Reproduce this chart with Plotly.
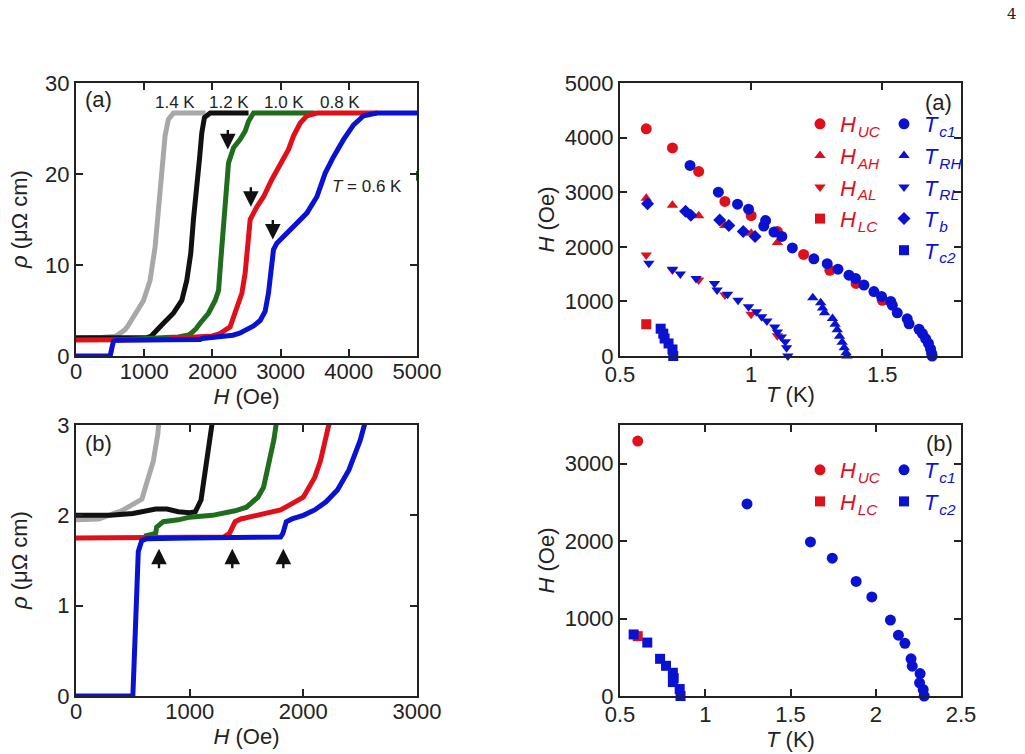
import plotly.graph_objects as go

# ---------------- Panel (a)/(b) left: rho(H) curves ----------------
H_14 = [0, 200, 400, 500, 580, 620, 680, 720, 760, 840, 990, 1086, 1160, 1208, 1257, 1306, 1355, 1430, 1600, 1900]
R_14 = [1.95, 1.96, 2.05, 2.12, 2.18, 2.35, 2.6, 2.9, 3.3, 4.3, 6.1, 8.3, 12.0, 16.0, 20.8, 24.2, 26.0, 26.7, 26.7, 26.7]

H_12 = [0, 300, 500, 600, 700, 800, 900, 1000, 1050, 1100, 1150, 1200, 1220, 1282, 1428, 1551, 1624, 1683, 1722, 1771, 1810, 1844, 1883, 1967, 2200, 2530]
R_12 = [2.0, 2.0, 2.02, 2.05, 2.07, 2.07, 2.04, 2.03, 2.04, 2.17, 2.53, 2.87, 3.0, 3.6, 4.7, 6.1, 8.3, 11.3, 15.0, 18.3, 21.6, 24.5, 26.2, 26.7, 26.7, 26.7]

H_10 = [600, 650, 700, 710, 768, 900, 1000, 1200, 1400, 1500, 1600, 1650, 1700, 1740, 1760, 1820, 1942, 2040, 2090, 2123, 2162, 2197, 2236, 2310, 2407, 2480, 2530, 2603, 3000, 3500]
R_10 = [1.77, 1.78, 1.8, 1.87, 1.93, 1.95, 1.98, 2.0, 2.05, 2.09, 2.2, 2.31, 2.57, 2.83, 3.0, 3.6, 4.7, 6.1, 7.2, 10.5, 14.2, 17.9, 21.2, 22.9, 23.8, 24.7, 25.8, 26.7, 26.7, 26.7]

H_08 = [0, 400, 800, 1200, 1300, 1350, 1400, 1450, 1600, 1800, 1900, 2000, 2100, 2150, 2200, 2220, 2260, 2358, 2432, 2480, 2515, 2554, 2652, 2750, 2872, 2994, 3116, 3190, 3288, 3386, 3532, 4000, 4413]
R_08 = [1.75, 1.75, 1.75, 1.75, 1.76, 1.8, 1.93, 1.96, 2.0, 2.06, 2.13, 2.2, 2.42, 2.6, 2.87, 3.0, 3.2, 5.2, 6.9, 9.1, 12.0, 15.0, 16.4, 17.5, 19.4, 21.2, 22.7, 24.2, 25.6, 26.4, 26.7, 26.7, 26.7]

H_06 = [0, 500, 510, 528, 548, 578, 620, 1000, 1400, 1800, 1820, 1850, 1900, 2000, 2100, 2200, 2300, 2400, 2500, 2540, 2603, 2700, 2773, 2822, 2857, 2896, 2945, 3092, 3238, 3385, 3532, 3654, 3777, 3924, 4070, 4217, 4413, 5000]
R_06 = [0, 0, 0.32, 1.06, 1.6, 1.72, 1.74, 1.75, 1.75, 1.76, 1.8, 1.93, 1.96, 2.0, 2.06, 2.15, 2.28, 2.5, 2.83, 3.0, 3.3, 3.9, 4.9, 6.9, 9.8, 11.7, 12.4, 13.5, 14.6, 15.7, 17.5, 20.1, 21.9, 23.8, 25.4, 26.4, 26.7, 26.7]

green_stray_H = [5000]
green_stray_R = [19.8]

curve_labels = ["1.4 K", "1.2 K", "1.0 K", "0.8 K"]
curve_label_H = [1453, 2250, 3043, 3875]

arrow_a_H = [2226, 2564, 2886]
arrow_a_R = [22.7, 16.4, 12.8]
arrow_b_H = [730, 1375, 1824]
arrow_b_R = [1.63, 1.63, 1.63]

# ---------------- Panel (a) right: phase diagram ----------------
T_UC = [0.6, 0.7, 0.8, 0.9, 1.0, 1.1, 1.2, 1.3, 1.4, 1.5]
H_UC = [4160, 3810, 3380, 2830, 2570, 2280, 1860, 1570, 1330, 1020]
T_AH = [0.6, 0.7, 0.8, 0.9, 1.0, 1.1]
H_AH = [2890, 2760, 2570, 2390, 2250, 2080]
T_AL = [0.6, 0.7, 0.8, 0.9, 1.0, 1.1]
H_AL = [1850, 1575, 1390, 1115, 765, 370]
T_LC = [0.6]
H_LC = [582]

T_c1 = [0.767, 0.875, 0.948, 0.99, 1.048, 1.055, 1.087, 1.117, 1.157, 1.239, 1.29, 1.331, 1.373, 1.398, 1.43, 1.468, 1.497, 1.532, 1.538, 1.557, 1.595, 1.602, 1.64, 1.653, 1.665, 1.676, 1.684, 1.688, 1.69]
H_c1 = [3490, 3000, 2780, 2690, 2380, 2480, 2270, 2190, 1980, 1780, 1690, 1590, 1480, 1420, 1300, 1180, 1090, 1000, 930, 790, 680, 590, 490, 410, 320, 230, 130, 50, 0]
T_RH = [1.235, 1.265, 1.272, 1.28, 1.31, 1.32, 1.328, 1.337, 1.347, 1.355, 1.362, 1.365]
H_RH = [1065, 975, 880, 790, 685, 580, 480, 360, 250, 150, 60, 0]
T_RL = [0.61, 0.7, 0.73, 0.79, 0.86, 0.87, 0.91, 0.95, 0.99, 1.02, 1.04, 1.06, 1.09, 1.1, 1.115, 1.13, 1.135, 1.14]
H_RL = [1700, 1590, 1500, 1420, 1330, 1210, 1130, 1020, 900, 810, 720, 640, 530, 440, 350, 260, 150, 0]
T_b = [0.605, 0.75, 0.77, 0.88, 0.915, 0.97, 1.015]
H_b = [2790, 2650, 2580, 2490, 2390, 2280, 2190]
T_c2 = [0.655, 0.665, 0.67, 0.685, 0.7, 0.703]
H_c2 = [500, 410, 320, 230, 120, 0]

# ---------------- Panel (b) right ----------------
T_UC_b = [0.604]
H_UC_b = [3292]
T_LC_b = [0.604]
H_LC_b = [773]
T_c1_b = [1.245, 1.617, 1.745, 1.885, 1.977, 2.086, 2.133, 2.171, 2.207, 2.214, 2.26, 2.257, 2.278, 2.284]
H_c1_b = [2480, 1990, 1780, 1480, 1280, 980, 785, 680, 480, 385, 290, 170, 85, 0]
T_c2_b = [0.58, 0.66, 0.735, 0.77, 0.81, 0.815, 0.81, 0.85, 0.855]
H_c2_b = [795, 690, 480, 390, 300, 230, 180, 90, 0]

RED = "#e0101a"
BLUE = "#0a12d2"
GREEN = "#1e6e1e"
GRAY = "#a8a8a8"
BLACK = "#111111"
FONT = "Liberation Sans, Arial, sans-serif"
FS = 22

fig = go.Figure()

curves = [(H_14, R_14, GRAY), (H_12, R_12, BLACK), (H_10, R_10, GREEN), (H_08, R_08, RED), (H_06, R_06, BLUE)]
for xa, ya in (("x", "y"), ("x2", "y2")):
    for h, r, c in curves:
        fig.add_trace(go.Scatter(x=h, y=r, mode="lines", line=dict(color=c, width=5),
                                 xaxis=xa, yaxis=ya, showlegend=False, hoverinfo="skip"))
fig.add_trace(go.Scatter(x=green_stray_H, y=green_stray_R, mode="markers",
                         marker=dict(symbol="line-ns", size=7, line=dict(color=GREEN, width=2)),
                         xaxis="x", yaxis="y", showlegend=False, cliponaxis=False))

def sub(main, s):
    return f"<i>{main}</i>\u200a<sub><i>{s}</i></sub>"

def pts(t, h, sym, col, size, name, xa, ya, leg):
    return go.Scatter(x=t, y=h, mode="markers", name=name,
                      marker=dict(symbol=sym, color=col, size=size, line=dict(width=0)),
                      xaxis=xa, yaxis=ya, cliponaxis=False, legend=leg, legendgroup=name + xa)

# top-right
fig.add_trace(pts(T_UC, H_UC, "circle", RED, 11, sub("H", "UC"), "x3", "y3", "legend"))
fig.add_trace(pts(T_AH, H_AH, "triangle-up", RED, 10, sub("H", "AH"), "x3", "y3", "legend"))
fig.add_trace(pts(T_AL, H_AL, "triangle-down", RED, 10, sub("H", "AL"), "x3", "y3", "legend"))
fig.add_trace(pts(T_LC, H_LC, "square", RED, 10, sub("H", "LC"), "x3", "y3", "legend"))
fig.add_trace(pts(T_c1, H_c1, "circle", BLUE, 11, sub("T", "c1"), "x3", "y3", "legend2"))
fig.add_trace(pts(T_RH, H_RH, "triangle-up", BLUE, 10, sub("T", "RH"), "x3", "y3", "legend2"))
fig.add_trace(pts(T_RL, H_RL, "triangle-down", BLUE, 10, sub("T", "RL"), "x3", "y3", "legend2"))
fig.add_trace(pts(T_b, H_b, "diamond", BLUE, 10, sub("T", "b"), "x3", "y3", "legend2"))
fig.add_trace(pts(T_c2, H_c2, "square", BLUE, 10, sub("T", "c2"), "x3", "y3", "legend2"))
# bottom-right
fig.add_trace(pts(T_UC_b, H_UC_b, "circle", RED, 11, sub("H", "UC"), "x4", "y4", "legend3"))
fig.add_trace(pts(T_LC_b, H_LC_b, "square", RED, 10, sub("H", "LC"), "x4", "y4", "legend3"))
fig.add_trace(pts(T_c1_b, H_c1_b, "circle", BLUE, 11, sub("T", "c1"), "x4", "y4", "legend4"))
fig.add_trace(pts(T_c2_b, H_c2_b, "square", BLUE, 10, sub("T", "c2"), "x4", "y4", "legend4"))

XL = [76 / 1025, 417 / 1025]
XR = [620 / 1025, 961 / 1025]
YT = [1 - 356 / 754, 1 - 83 / 754]
YB = [1 - 696 / 754, 1 - 425 / 754]

def ax(domain, anchor, rng, title, standoff, **kw):
    d = dict(domain=domain, anchor=anchor, range=rng, showline=True, linecolor="#222", linewidth=2,
             mirror="allticks", ticks="inside", ticklen=7, tickwidth=2, tickcolor="#222",
             showgrid=False, zeroline=False, automargin=False,
             tickfont=dict(family=FONT, size=FS, color="#222"),
             title=dict(text=title, font=dict(family=FONT, size=FS, color="#222"), standoff=standoff))
    d.update(kw)
    return d

fig.update_layout(
    width=1025, height=754, margin=dict(l=0, r=0, t=0, b=0, autoexpand=False),
    paper_bgcolor="white", plot_bgcolor="white", showlegend=True,
    font=dict(family=FONT, color="#222"),
    xaxis=ax(XL, "y", [0, 5000], "<i>H</i> (Oe)", 0, ticklabelstandoff=-5, tickvals=[0, 1000, 2000, 3000, 4000, 5000], ticktext=["0", "1000", "2000", "3000", "4000", "5000"]),
    yaxis=ax(YT, "x", [0, 30], "", 0, tickvals=[0, 10, 20, 30]),
    xaxis2=ax(XL, "y2", [0, 3000], "<i>H</i> (Oe)", 0, ticklabelstandoff=-5, tickvals=[0, 1000, 2000, 3000], ticktext=["0", "1000", "2000", "3000"]),
    yaxis2=ax(YB, "x2", [0, 3], "", 0, tickvals=[0, 1, 2, 3]),
    xaxis3=ax(XR, "y3", [0.5, 1.8], "<i>T</i> (K)", 0, ticklabelstandoff=-2, tickvals=[0.5, 1, 1.5], ticktext=["0.5", "1", "1.5"]),
    yaxis3=ax(YT, "x3", [0, 5000], "<i>H</i> (Oe)", 4, tickvals=[0, 1000, 2000, 3000, 4000, 5000], ticktext=["0", "1000", "2000", "3000", "4000", "5000"]),
    xaxis4=ax(XR, "y4", [0.5, 2.5], "<i>T</i> (K)", 0, ticklabelstandoff=-2, tickvals=[0.5, 1, 1.5, 2, 2.5], ticktext=["0.5", "1", "1.5", "2", "2.5"]),
    yaxis4=ax(YB, "x4", [0, 3500], "<i>H</i> (Oe)", 4, tickvals=[0, 1000, 2000, 3000], ticktext=["0", "1000", "2000", "3000"]),
)

def leg(x, y, color):
    return dict(x=x, y=y, xanchor="left", yanchor="top", xref="paper", yref="paper",
                bgcolor="rgba(0,0,0,0)", borderwidth=0, tracegroupgap=0,
                font=dict(family=FONT, size=FS, color=color), itemsizing="trace")

fig.update_layout(
    legend=leg(800 / 1025, 1 - 103 / 754, RED),
    legend2=leg(884 / 1025, 1 - 103 / 754, BLUE),
    legend3=leg(800 / 1025, 1 - 449 / 754, RED),
    legend4=leg(884 / 1025, 1 - 449 / 754, BLUE),
)

ann = []
for yd in (YT, YB):
    ann.append(dict(x=5 / 1025, y=(yd[0] + yd[1]) / 2, xref="paper", yref="paper",
                    text="<i>ρ</i> (μΩ cm)", textangle=-90, showarrow=False,
                    xanchor="left", yanchor="middle",
                    font=dict(family=FONT, size=FS, color="#222")))
for lab, h in zip(curve_labels, curve_label_H):
    ann.append(dict(x=h, y=27.9, xref="x", yref="y", text=lab, showarrow=False,
                    font=dict(family=FONT, size=17, color="#222")))
ann.append(dict(x=4266, y=18.6, xref="x", yref="y", text="<i>T</i> = 0.6 K", showarrow=False,
                font=dict(family=FONT, size=17, color="#222")))
ann.append(dict(x=328, y=28.2, xref="x", yref="y", text="(a)", showarrow=False,
                font=dict(family=FONT, size=FS, color="#222")))
ann.append(dict(x=196, y=2.79, xref="x2", yref="y2", text="(b)", showarrow=False,
                font=dict(family=FONT, size=FS, color="#222")))
ann.append(dict(x=1.716, y=4646, xref="x3", yref="y3", text="(a)", showarrow=False,
                font=dict(family=FONT, size=FS, color="#222")))
ann.append(dict(x=2.376, y=3262, xref="x4", yref="y4", text="(b)", showarrow=False,
                font=dict(family=FONT, size=FS, color="#222")))
for h, r in zip(arrow_a_H, arrow_a_R):
    ann.append(dict(x=h, y=r, xref="x", yref="y", ax=0, ay=-21, text="", showarrow=True,
                    arrowhead=2, arrowsize=1.3, arrowwidth=2.4, arrowcolor="#111"))
for h, r in zip(arrow_b_H, arrow_b_R):
    ann.append(dict(x=h, y=r, xref="x2", yref="y2", ax=0, ay=21, text="", showarrow=True,
                    arrowhead=2, arrowsize=1.3, arrowwidth=2.4, arrowcolor="#111"))
ann.append(dict(x=1012 / 1025, y=1 - 14 / 754, xref="paper", yref="paper", text="4", showarrow=False,
                xanchor="center", yanchor="middle",
                font=dict(family="DejaVu Serif, serif", size=15, color="#222")))
fig.update_layout(annotations=ann)

fig.write_html("out.html")
